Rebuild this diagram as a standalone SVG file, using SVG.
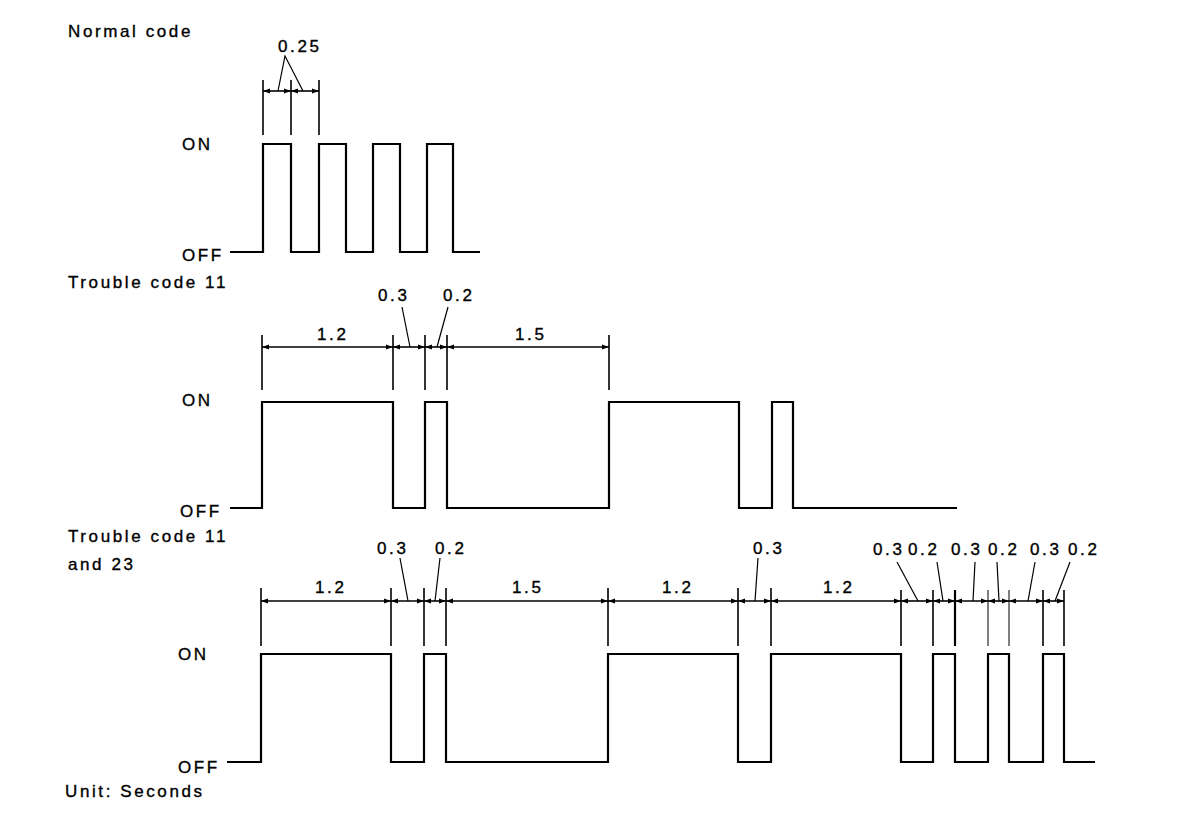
<svg xmlns="http://www.w3.org/2000/svg" width="1200" height="822" viewBox="0 0 1200 822">
<style>
text{font-family:"Liberation Sans",Arial,sans-serif;font-size:17px;letter-spacing:2.6px;fill:#000;stroke:#000;stroke-width:0.35}
.wave{fill:none;stroke:#000;stroke-width:2.2;stroke-linejoin:miter}
.ext{stroke:#000;stroke-width:1.6}
.dim{stroke:#000;stroke-width:1.6;marker-start:url(#ar);marker-end:url(#ar)}
.lead{stroke:#000;stroke-width:1.2;fill:none}
</style>
<defs>
<marker id="ar" markerUnits="userSpaceOnUse" markerWidth="8" markerHeight="6" refX="7" refY="3" orient="auto-start-reverse">
<path d="M0,0.5 L7,3 L0,5.5 Z" fill="#000"/>
</marker>
</defs>
<rect width="1200" height="822" fill="#fff"/>

<g id="row1">
<text x="68" y="37">Normal code</text>
<text x="182" y="150">ON</text>
<text x="182" y="261">OFF</text>
<path class="wave" d="M230,252 H263 V144 H291 V252 H319 V144 H346 V252 H373 V144 H400 V252 H427 V144 H453 V252 H480"/>
<text x="278" y="52">0.25</text>
</g>

<g id="row2">
<text x="68" y="288">Trouble code 11</text>
<text x="182" y="406">ON</text>
<text x="180" y="517">OFF</text>
<path class="wave" d="M230,508 H262 V402 H393 V508 H425 V402 H447 V508 H609 V402 H739 V508 H772 V402 H793 V508 H957"/>
<text x="317" y="340">1.2</text>
<text x="378" y="301">0.3</text>
<text x="443" y="301">0.2</text>
<text x="515" y="340">1.5</text>
</g>

<g id="row3">
<text x="68" y="542">Trouble code 11</text>
<text x="68" y="570">and 23</text>
<text x="178" y="660">ON</text>
<text x="178" y="773">OFF</text>
<text x="65" y="797">Unit: Seconds</text>
<path class="wave" d="M227,762 H261 V654 H391 V762 H424 V654 H446 V762 H608 V654 H738 V762 H771 V654 H901 V762 H933 V654 H955 V762 H988 V654 H1009 V762 H1043 V654 H1064 V762 H1095"/>
<text x="315" y="593">1.2</text>
<text x="377" y="554">0.3</text>
<text x="435" y="554">0.2</text>
<text x="512" y="593">1.5</text>
<text x="662" y="593">1.2</text>
<text x="753" y="554">0.3</text>
<text x="823" y="593">1.2</text>
<text x="873" y="555">0.3</text>
<text x="908" y="555">0.2</text>
<text x="951" y="555">0.3</text>
<text x="988" y="555">0.2</text>
<text x="1030" y="555">0.3</text>
<text x="1068" y="555">0.2</text>
</g>

<g id="connectors">
<line class="ext" x1="263" y1="80" x2="263" y2="135"/>
<line class="ext" x1="291" y1="80" x2="291" y2="135"/>
<line class="ext" x1="319" y1="80" x2="319" y2="135"/>
<line class="dim" x1="263" y1="91" x2="291" y2="91"/>
<line class="dim" x1="291" y1="91" x2="319" y2="91"/>
<polyline class="lead" points="278,91 285,56 303,91"/>
<line class="ext" x1="262" y1="335" x2="262" y2="390"/>
<line class="ext" x1="393" y1="335" x2="393" y2="390"/>
<line class="ext" x1="425" y1="335" x2="425" y2="390"/>
<line class="ext" x1="447" y1="335" x2="447" y2="390"/>
<line class="ext" x1="609" y1="335" x2="609" y2="390"/>
<line class="dim" x1="262" y1="347" x2="393" y2="347"/>
<line class="dim" x1="393" y1="347" x2="425" y2="347"/>
<line class="dim" x1="425" y1="347" x2="447" y2="347"/>
<line class="dim" x1="447" y1="347" x2="609" y2="347"/>
<line class="lead" x1="402" y1="307" x2="410" y2="347"/>
<line class="lead" x1="448" y1="307" x2="437" y2="347"/>
<line class="ext" x1="261" y1="588" x2="261" y2="646"/>
<line class="ext" x1="391" y1="588" x2="391" y2="646"/>
<line class="ext" x1="424" y1="588" x2="424" y2="646"/>
<line class="ext" x1="446" y1="588" x2="446" y2="646"/>
<line class="ext" x1="608" y1="588" x2="608" y2="646"/>
<line class="ext" x1="738" y1="588" x2="738" y2="646"/>
<line class="ext" x1="771" y1="588" x2="771" y2="646"/>
<line class="ext" x1="901" y1="590" x2="901" y2="646"/>
<line class="ext" x1="933" y1="590" x2="933" y2="646"/>
<line class="ext" x1="955" y1="590" x2="955" y2="646" style="stroke-width:2.2"/>
<line class="ext" x1="988" y1="590" x2="988" y2="646" style="stroke-width:1"/>
<line class="ext" x1="1009" y1="590" x2="1009" y2="646" style="stroke-width:1"/>
<line class="ext" x1="1043" y1="590" x2="1043" y2="646"/>
<line class="ext" x1="1064" y1="590" x2="1064" y2="646"/>
<line class="dim" x1="261" y1="601" x2="391" y2="601"/>
<line class="dim" x1="391" y1="601" x2="424" y2="601"/>
<line class="dim" x1="424" y1="601" x2="446" y2="601"/>
<line class="dim" x1="446" y1="601" x2="608" y2="601"/>
<line class="dim" x1="608" y1="601" x2="738" y2="601"/>
<line class="dim" x1="738" y1="601" x2="771" y2="601"/>
<line class="dim" x1="771" y1="601" x2="901" y2="601"/>
<line class="dim" x1="901" y1="601" x2="933" y2="601"/>
<line class="dim" x1="933" y1="601" x2="955" y2="601"/>
<line class="dim" x1="955" y1="601" x2="988" y2="601"/>
<line class="dim" x1="988" y1="601" x2="1009" y2="601"/>
<line class="dim" x1="1009" y1="601" x2="1043" y2="601"/>
<line class="dim" x1="1043" y1="601" x2="1064" y2="601"/>
<line class="lead" x1="400" y1="558" x2="408" y2="601"/>
<line class="lead" x1="440" y1="558" x2="435" y2="601"/>
<line class="lead" x1="758" y1="558" x2="755" y2="601"/>
<line class="lead" x1="897" y1="562" x2="918" y2="601"/>
<line class="lead" x1="937" y1="562" x2="943" y2="601"/>
<line class="lead" x1="975" y1="562" x2="973" y2="601"/>
<line class="lead" x1="997" y1="562" x2="999" y2="601"/>
<line class="lead" x1="1035" y1="562" x2="1028" y2="601"/>
<line class="lead" x1="1070" y1="562" x2="1055" y2="601"/>
</g>
</svg>
